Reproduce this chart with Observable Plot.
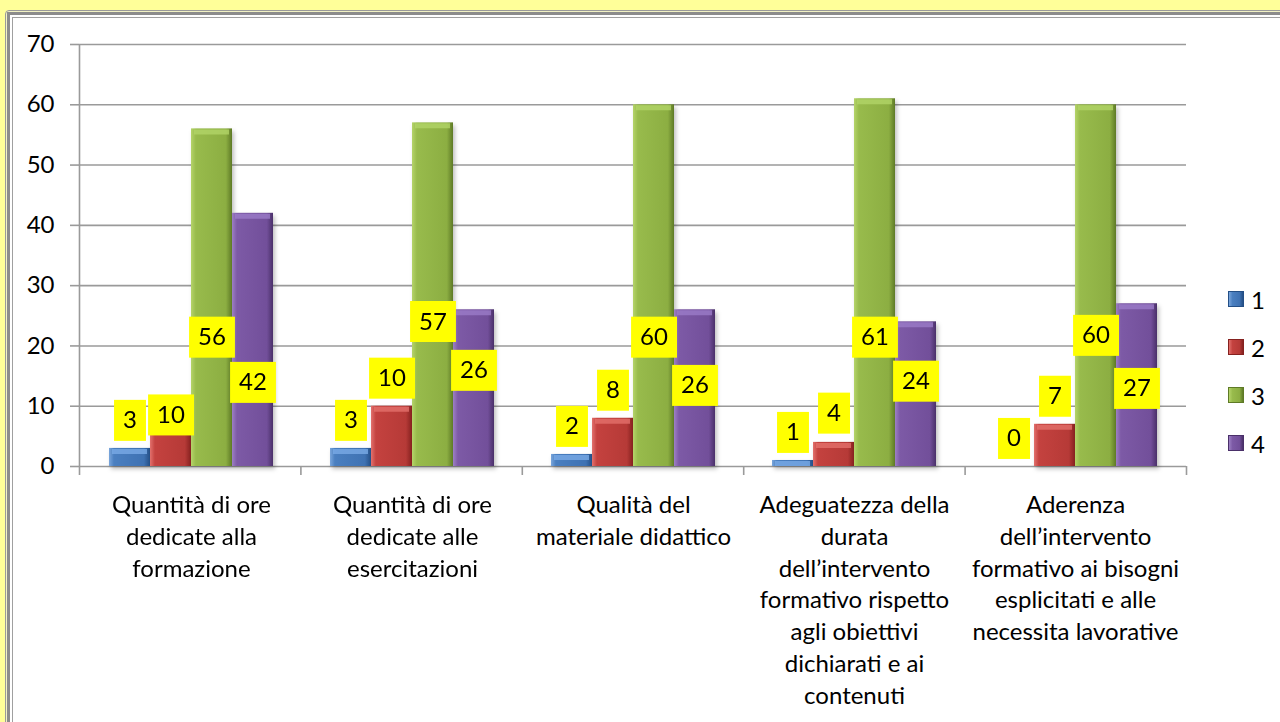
<!DOCTYPE html>
<html>
<head>
<meta charset="utf-8">
<script src="https://cdn.jsdelivr.net/npm/d3@7"></script>
<script src="https://cdn.jsdelivr.net/npm/@observablehq/plot@0.6"></script>
<style>
  html, body { margin: 0; padding: 0; width: 1280px; height: 722px; overflow: hidden; background: #ffff99; font-family: Lato, "Open Sans", sans-serif; }
  .f1 { position: absolute; left: 5px; top: 10px; width: 1320px; height: 760px; border: 1.5px solid #9a9a9a; border-radius: 4px 0 0 0; background: #f2f2c4; padding: 1px; box-sizing: border-box; }
  .f2 { width: 100%; height: 100%; border: 3px solid #8c8c8c; background: #fff; padding: 1.5px; box-sizing: border-box; }
  .f3 { width: 100%; height: 100%; border: 1.5px solid #a0a0a0; background: #fff; box-sizing: border-box; }
  #chart { position: absolute; left: 0; top: 0; width: 1280px; height: 722px; }
  #chart svg { position: absolute; left: 0; top: 0; }
  #legend { position: absolute; left: 1228px; top: 275px; font-family: Lato, sans-serif; font-size: 24px; color: #000; }
  #legend .row { height: 48px; display: flex; align-items: center; }
  #legend .sw { width: 16px; height: 16px; margin-right: 7px; box-sizing: border-box; }
</style>
</head>
<body>
<div class="f1"><div class="f2"><div class="f3"></div></div></div>
<div id="chart"></div>
<div id="legend"></div>
<script>
// ---- data ----
const categories = [
  "Quantità di ore\ndedicate alla\nformazione",
  "Quantità di ore\ndedicate alle\nesercitazioni",
  "Qualità del\nmateriale didattico",
  "Adeguatezza della\ndurata\ndell’intervento\nformativo rispetto\nagli obiettivi\ndichiarati e ai\ncontenuti",
  "Aderenza\ndell’intervento\nformativo ai bisogni\nesplicitati e alle\nnecessita lavorative"
];
const series = ["1", "2", "3", "4"];
const values1 = [3, 3, 2, 1, 0];
const values2 = [10, 10, 8, 4, 7];
const values3 = [56, 57, 60, 61, 60];
const values4 = [42, 26, 26, 24, 27];
// where each data label sits (in value units)
const labelAt1 = [7.6, 7.6, 6.6, 5.6, 4.6];
const labelAt2 = [8.5, 14.6, 12.6, 8.8, 11.6];
const labelAt3 = [21.4, 24.0, 21.4, 21.4, 21.7];
const labelAt4 = [13.9, 15.9, 13.4, 14.1, 12.9];
const yTicks = [0, 10, 20, 30, 40, 50, 60, 70];

// ---- styles ----
const grads = [
  ["#7aa6dc", "#4a7fc0", "#3f72b3", "#244f86"],
  ["#e2716d", "#c4423f", "#b63a37", "#85211f"],
  ["#b5d46a", "#98bb4c", "#8cae42", "#5e7a26"],
  ["#9d80c4", "#7d5aa6", "#724f9a", "#4a3069"]
];
const bevel = ["#79aae6", "#e4706b", "#b2d468", "#9b7cc8"];

const valuesBySeries = [values1, values2, values3, values4];
const labelsBySeries = [labelAt1, labelAt2, labelAt3, labelAt4];
const rows = categories.flatMap((c, i) => series.map((s, j) => ({
  category: c, series: s, value: valuesBySeries[j][i], labelY: labelsBySeries[j][i]
})));
const boundaries = d3.range(categories.length + 1);

const W = 1280, H = 722, ML = 79, MR = 94, MT = 44, MB = 256;
const common = {width: W, height: H, marginLeft: ML, marginRight: MR, marginTop: MT, marginBottom: MB,
  style: {background: "transparent", fontFamily: "Lato, sans-serif", fontSize: "24px", color: "#000", overflow: "visible"}};

// background: grid, y axis, boundary ticks
const plotA = Plot.plot({
  ...common,
  x: {domain: [0, categories.length], axis: null},
  y: {domain: [0, 70], axis: null},
  marks: [
    Plot.ruleY(yTicks, {stroke: "#9a9a9a", strokeWidth: 1.6}),
    Plot.axisY({ticks: yTicks, tickSize: 9, tickPadding: 16, stroke: "#9a9a9a", strokeWidth: 1.6, fill: "#000", fontSize: 24, label: null}),
    Plot.axisX({ticks: boundaries, tickSize: 9, tickFormat: () => "", stroke: "#9a9a9a", strokeWidth: 1.6, label: null}),
    Plot.ruleX([0], {y1: 0, y2: 70, stroke: "#9a9a9a", strokeWidth: 1.6})
  ]
});

// foreground: bars, labels, category axis
const plotB = Plot.plot({
  ...common,
  fx: {domain: categories, paddingInner: 0.26, paddingOuter: 0.13, axis: null},
  x: {domain: series, padding: 0, axis: null},
  y: {domain: [0, 70], axis: null},
  color: {domain: series, range: series.map((s, i) => `url(#grad${i})`)},
  marks: [
    Plot.barY(rows, {fx: "category", x: "series", y: "value", fill: "series"}),
    Plot.tickY(rows.filter(d => d.value > 0), {fx: "category", x: "series", y: "value", dy: 3, strokeWidth: 5, insetLeft: 3, insetRight: 3,
      stroke: d => bevel[series.indexOf(d.series)], strokeOpacity: 0.8}),
    Plot.text(rows, {fx: "category", x: "series", y: "labelY", text: d => String(d.value), fontSize: 24, fill: "#000", lineAnchor: "middle"}),
    Plot.axisFx({anchor: "bottom", tickSize: 0, tickPadding: 24, fontSize: 24, lineHeight: 1.325, fill: "#000", label: null})
  ]
});

const chart = document.getElementById("chart");
chart.appendChild(plotA);
chart.appendChild(plotB);

// gradient defs
const svgB = d3.select(plotB);
const defs = svgB.insert("defs", ":first-child");
grads.forEach((g, i) => {
  const lg = defs.append("linearGradient").attr("id", `grad${i}`).attr("x1", 0).attr("x2", 1).attr("y1", 0).attr("y2", 0);
  lg.append("stop").attr("offset", "0%").attr("stop-color", g[0]);
  lg.append("stop").attr("offset", "12%").attr("stop-color", g[1]);
  lg.append("stop").attr("offset", "85%").attr("stop-color", g[2]);
  lg.append("stop").attr("offset", "100%").attr("stop-color", g[3]);
});
svgB.selectAll('g[aria-label="bar"]').style("filter", "drop-shadow(2px 3px 2px rgba(0,0,0,0.25))");

// yellow boxes behind the data labels
const parents = new Set();
svgB.selectAll('g[aria-label="text"] text').each(function() { parents.add(this.parentNode); });
parents.forEach(p => {
  const texts = Array.from(p.querySelectorAll(":scope > text"));
  const first = p.firstChild;
  texts.forEach(t => {
    const b = t.getBBox();
    const r = document.createElementNS("http://www.w3.org/2000/svg", "rect");
    const cy = b.y + b.height / 2 + 1.5;
    r.setAttribute("x", b.x - 9);
    r.setAttribute("width", b.width + 18);
    r.setAttribute("y", cy - 20.5);
    r.setAttribute("height", 41);
    r.setAttribute("fill", "#ffff00");
    r.setAttribute("stroke", "none");
    if (t.getAttribute("transform")) r.setAttribute("transform", t.getAttribute("transform"));
    p.insertBefore(r, first);
  });
});

// legend
const legend = d3.select("#legend");
series.forEach((s, i) => {
  const row = legend.append("div").attr("class", "row");
  const g = grads[i];
  row.append("div").attr("class", "sw")
    .style("background", `linear-gradient(to right, ${g[0]}, ${g[1]} 25%, ${g[2]} 75%, ${g[3]})`)
    .style("border", `1px solid ${g[3]}`);
  row.append("span").text(s);
});
</script>
</body>
</html>
